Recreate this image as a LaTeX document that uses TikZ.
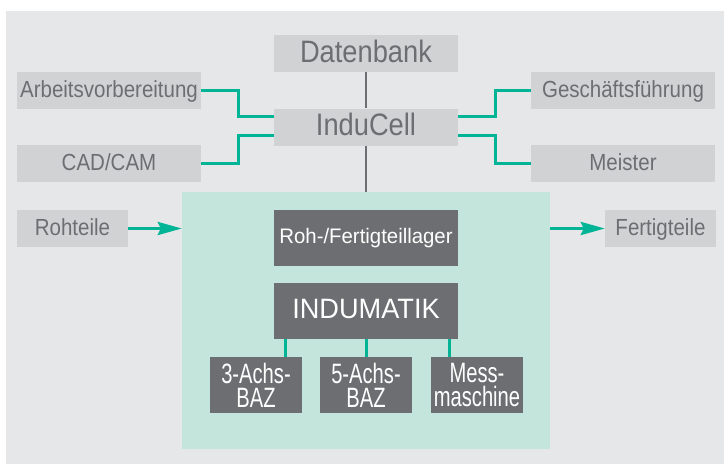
\documentclass[tikz,border=0pt]{standalone}
\usepackage{fontspec}
\setmainfont{Liberation Sans}
\newfontfamily\lightfont[FakeStretch=0.88]{Liberation Sans}
\newfontfamily\darkfont[FakeStretch=0.97]{Liberation Sans}
\newfontfamily\machfont[FakeStretch=0.72]{Liberation Sans}
\usetikzlibrary{arrows.meta}
\definecolor{panelgrey}{HTML}{E6E7E8}
\definecolor{boxgrey}{HTML}{D1D2D4}
\definecolor{textgrey}{HTML}{6D6E71}
\definecolor{cellgreen}{HTML}{C4E5DB}
\definecolor{linkteal}{HTML}{00B495}

\begin{document}
\begin{tikzpicture}[x=1pt, y=-1pt,
		lightbox/.style={fill=boxgrey, text=textgrey, inner sep=0pt, minimum width=184pt, minimum height=37pt},
		smalltext/.style={font=\lightfont\fontsize{23.3}{26}\selectfont, text height=17pt, text depth=4pt},
		bigtext/.style={font=\lightfont\fontsize{31}{34}\selectfont, text height=22pt, text depth=5pt},
		darkbox/.style={fill=textgrey, text=white, inner sep=0pt, minimum width=184pt, minimum height=56pt},
		machbox/.style={fill=textgrey, text=white, inner sep=0pt, minimum width=92pt, minimum height=56pt, align=center, font=\machfont\fontsize{28}{24}\selectfont},
		link/.style={draw=linkteal, line width=3pt},
		flow/.style={link, -{Stealth[length=24pt, width=13pt, inset=3pt]}},
		bus/.style={draw=textgrey, line width=2pt}]
			%%%%% START %%%%%
			
			\fill[white] (0, 0) rectangle (724, 464);
			\fill[panelgrey] (6, 11) rectangle (724, 464);
			\useasboundingbox (0, 0) rectangle (724, 464);
			
			\node[fill=cellgreen, inner sep=0pt, minimum width=368pt, minimum height=257pt] (cell) at (366, 320.5) {};
			
			\node[lightbox, bigtext] (db) at (366, 53.5) {Datenbank};
			\node[lightbox, bigtext] (indu) at (366, 127) {InduCell};
			
			\node[lightbox, smalltext] (arb) at (109, 90.5) {Arbeitsvorbereitung};
			\node[lightbox, smalltext] (cad) at (109, 163.5) {CAD/CAM};
			\node[lightbox, smalltext] (gf) at (623, 90.5) {Geschäftsführung};
			\node[lightbox, smalltext] (meister) at (623, 163.5) {Meister};
			
			\node[lightbox, smalltext, minimum width=111pt] (roh) at (72.5, 228.5) {Rohteile};
			\node[lightbox, smalltext, minimum width=111pt] (fertig) at (660.5, 228.5) {Fertigteile};
			
			\node[darkbox, font=\darkfont\fontsize{21}{24}\selectfont, text height=15pt, text depth=5pt] (lager) at (366, 238) {Roh-/Fertigteillager};
			\node[darkbox, font=\darkfont\fontsize{28}{31}\selectfont, text height=20pt, text depth=6pt] (indumatik) at (366, 311) {INDUMATIK};
			
			\node[machbox] (baz3) at (256, 385) {3-Achs-\\BAZ};
			\node[machbox] (baz5) at (366, 385) {5-Achs-\\BAZ};
			\node[machbox] (mess) at (477, 385) {Mess-\\maschine};
			
			\draw[bus] (db.south) -- (indu.north);
			\draw[bus] (indu.south) -- (cell.north);
			
			\draw[link] (arb.east) -- ++(37, 0) |- ([yshift=11pt]indu.west);
			\draw[link] (cad.east) -- ++(37, 0) |- ([yshift=-8pt]indu.west);
			\draw[link] ([yshift=11pt]indu.east) -- ++(37, 0) |- (gf.west);
			\draw[link] ([yshift=-8pt]indu.east) -- ++(37, 0) |- (meister.west);
			
			\draw[flow] (roh.east) -- (roh.east -| cell.west);
			\draw[flow] (cell.east |- fertig.west) -- (fertig.west);
			
			\draw[link] ([xshift=29pt]baz3.north |- indumatik.south) -- ([xshift=29pt]baz3.north);
			\draw[link] (indumatik.south) -- (baz5.north);
			\draw[link] ([xshift=-28pt]mess.north |- indumatik.south) -- ([xshift=-28pt]mess.north);
			
			%%%%% END %%%%%
\end{tikzpicture}
\end{document}
